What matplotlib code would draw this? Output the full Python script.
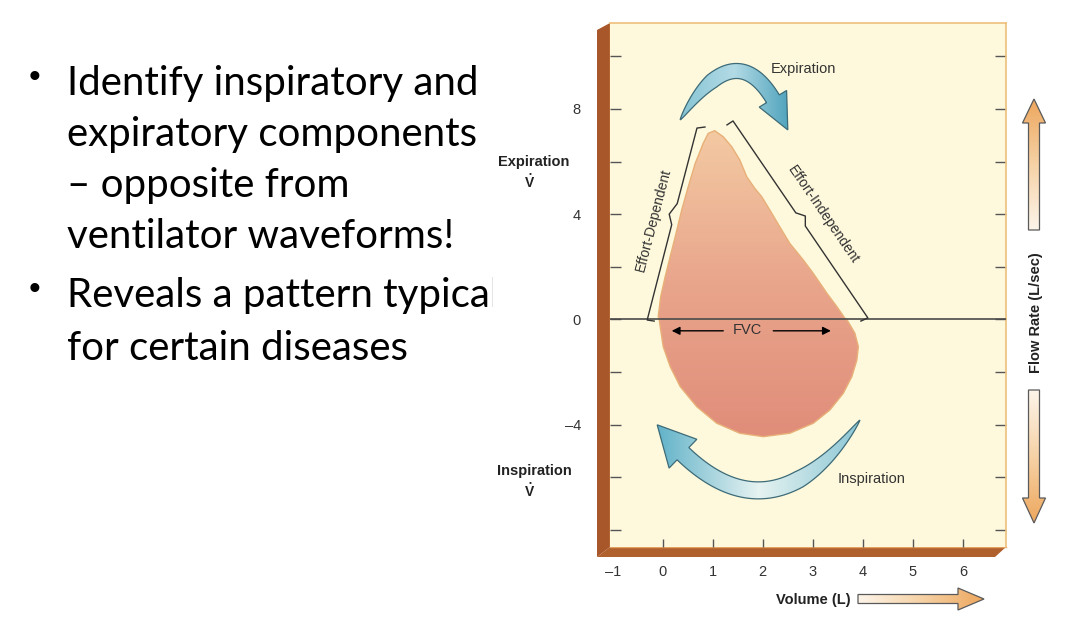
import numpy as np
import matplotlib.pyplot as plt
from matplotlib.patches import Polygon, Rectangle
from matplotlib.colors import LinearSegmentedColormap

W, H = 1066, 644

# slide text on the left
slide_lines = ["Identify inspiratory and", "expiratory components", "\u2013 opposite from",
               "ventilator waveforms!", "Reveals a pattern typical", "for certain diseases"]
slide_baselines = [95, 146, 197, 248, 307, 360]
bullet_rows = [0, 4]

# flow-volume loop, volume (L) vs flow (L/s)
exp_volume = [-0.07, -0.09, -0.04, 0.05, 0.15, 0.25, 0.38, 0.51, 0.65, 0.81, 0.91, 1.04,
              1.21, 1.38, 1.54, 1.68, 1.84, 1.98, 2.14, 2.34, 2.54, 2.81, 3.01, 3.28, 3.48, 3.64]
exp_flow = [0.0, 0.11, 0.87, 1.63, 2.39, 3.14, 4.16, 5.04, 5.93, 6.69, 7.07, 7.17,
            6.94, 6.56, 6.06, 5.42, 4.98, 4.66, 4.16, 3.52, 2.89, 2.26, 1.75, 1.00, 0.49, 0.05]
insp_volume = [3.68, 3.84, 3.91, 3.88, 3.78, 3.61, 3.34, 3.01, 2.54, 2.01, 1.54, 1.08,
               0.68, 0.35, 0.15, 0.01, -0.05]
insp_flow = [0.0, -0.52, -1.03, -1.54, -2.17, -2.80, -3.44, -3.94, -4.32, -4.45, -4.32, -3.94,
             -3.31, -2.55, -1.79, -1.03, -0.27]

# brackets along the expiratory limb
dep_x = [-0.17, -0.31, 0.18, 0.13, 0.29, 0.685, 0.845]
dep_y = [-0.06, -0.02, 3.6, 4.0, 4.4, 7.27, 7.31]
indep_x = [1.285, 1.405, 2.66, 2.85, 2.85, 4.10, 3.96]
indep_y = [7.39, 7.54, 4.05, 3.93, 3.55, 0.06, -0.06]

# curved direction arrows: tail, head (data units), bend
exp_arrow_tail, exp_arrow_head = (0.35, 7.58), (2.50, 7.20)
insp_arrow_tail, insp_arrow_head = (3.94, -3.82), (-0.11, -4.0)

x_ticks = [0, 1, 2, 3, 4, 5, 6]
y_ticks = [-8, -6, -4, -2, 0, 2, 4, 6, 8, 10]
y_labeled = {8: "8", 4: "4", 0: "0", -4: "\u20134"}

CREAM = "#fef9dc"
BROWN = "#a8572a"
INK = "#333333"
XLIM = (-1.053, 6.86)
YLIM = (-8.64, 11.26)
AX_PX = (610, 23, 1006, 547)  # left, top, right, bottom in pixels
SX = (AX_PX[2] - AX_PX[0]) / (XLIM[1] - XLIM[0])
SY = (AX_PX[3] - AX_PX[1]) / (YLIM[1] - YLIM[0])

plt.rcParams['font.family'] = ['Liberation Sans', 'DejaVu Sans']

fig = plt.figure(figsize=(W / 100, H / 100), dpi=100)

# full-figure layer in pixel coords for the slide + decorations
deco = fig.add_axes([0, 0, 1, 1])
deco.set_xlim(0, W)
deco.set_ylim(H, 0)
deco.set_autoscale_on(False)
deco.axis('off')

for i, line in enumerate(slide_lines):
    deco.text(67, slide_baselines[i], line, fontsize=29, family=['Lato', 'DejaVu Sans'],
              va='baseline', ha='left', color='black', zorder=1)
for r in bullet_rows:
    deco.text(35, slide_baselines[r] - 17, "\u2022", fontsize=24, ha='center', va='center',
              family=['Liberation Sans'], zorder=1)
deco.add_patch(Rectangle((493, 0), W - 493, H, color='white', zorder=2))

# 3d box: wall + floor
deco.add_patch(Polygon([(597, 30), (610, 23), (610, 547), (597, 557)], closed=True,
                       fc=BROWN, ec='none', zorder=3))
deco.add_patch(Polygon([(597, 557), (610, 547), (1006, 547), (995, 557)], closed=True,
                       fc='#b0602d', ec='none', zorder=3))
deco.plot([610, 610, 1006], [23, 547, 547], color='#e3a060', lw=1, zorder=4)

# y side labels
for label, ty, dy, vy in [("Expiration", 162, 174.5, 183), ("Inspiration", 471, 483.5, 492)]:
    deco.text(534, ty, label, fontsize=10.5, fontweight='bold', ha='center', va='center',
              color='#222222', zorder=4)
    deco.text(530, dy, "\u2022", fontsize=6, ha='center', va='center', color='#222222', zorder=4)
    deco.text(530, vy, "V", fontsize=10, fontweight='bold', ha='center', va='center',
              color='#222222', zorder=4)

deco.text(1036, 313, "Flow Rate (L/sec)", rotation=90, fontsize=10.5, fontweight='bold',
          ha='center', va='center', color='#222222', zorder=4)
deco.text(813, 600, "Volume (L)", fontsize=10.5, fontweight='bold', ha='center', va='center',
          color='#222222', zorder=4)

orange_cmap = LinearSegmentedColormap.from_list('org', ['#fdf6ec', '#f6d2a6', '#eda65c'])


def gradient_fill(target, poly, extent, cmap, horizontal, flip):
    g = np.linspace(0, 1, 128)
    if flip:
        g = g[::-1]
    arr = g.reshape(1, -1) if horizontal else g.reshape(-1, 1)
    im = target.imshow(arr, extent=extent, cmap=cmap, aspect='auto', zorder=poly.get_zorder() - 0.5)
    im.set_clip_path(poly)


for pts, ext, horiz, flip in [
        ([(1028.5, 230), (1028.5, 123), (1022.5, 123), (1034, 99), (1045.5, 123),
          (1039.5, 123), (1039.5, 230)], (1020, 1048, 232, 97), False, True),
        ([(1028.5, 390), (1028.5, 498), (1022.5, 498), (1034, 523), (1045.5, 498),
          (1039.5, 498), (1039.5, 390)], (1020, 1048, 525, 388), False, False),
        ([(858, 594.5), (958, 594.5), (958, 588), (984, 599), (958, 610), (958, 603.5),
          (858, 603.5)], (856, 986, 612, 586), True, False)]:
    p = Polygon(pts, closed=True, fc='none', ec='#5a5a5a', lw=0.9, zorder=6)
    deco.add_patch(p)
    gradient_fill(deco, p, ext, orange_cmap, horiz, flip)


def curved_arrow(tail, head, rad, body_w, head_w, head_len):
    # build outline in pixel space so widths are in pixels, then back to data
    p0 = np.array([tail[0] * SX, tail[1] * SY])
    p2 = np.array([head[0] * SX, head[1] * SY])
    d = p2 - p0
    c = (p0 + p2) / 2 + rad * np.array([d[1], -d[0]])
    t = np.linspace(0, 1, 300)[:, None]
    pts = (1 - t) ** 2 * p0 + 2 * (1 - t) * t * c + t ** 2 * p2
    tan = 2 * (1 - t) * (c - p0) + 2 * t * (p2 - c)
    tan = tan / np.linalg.norm(tan, axis=1)[:, None]
    nrm = np.column_stack([-tan[:, 1], tan[:, 0]])
    s = np.concatenate([[0], np.cumsum(np.linalg.norm(np.diff(pts, axis=0), axis=1))])
    body = s <= s[-1] - head_len
    sb = s[body]
    w = body_w * np.clip(sb / (0.4 * sb[-1]), 0, 1) ** 0.75 / 2
    left = pts[body] + nrm[body] * w[:, None]
    right = pts[body] - nrm[body] * w[:, None]
    k = body.sum() - 1
    base = pts[k]
    outline = np.vstack([left, base + nrm[k] * head_w / 2, p2,
                         base - nrm[k] * head_w / 2, right[::-1]])
    return outline / np.array([SX, SY])


# main chart
ax = fig.add_axes([AX_PX[0] / W, 1 - AX_PX[3] / H, (AX_PX[2] - AX_PX[0]) / W,
                   (AX_PX[3] - AX_PX[1]) / H], zorder=3)
ax.set_facecolor(CREAM)

loop_cmap = LinearSegmentedColormap.from_list('loop', ['#e08d7a', '#e9a58c', '#f3c9a2'])
verts = list(zip(exp_volume + insp_volume, exp_flow + insp_flow))
loop = Polygon(verts, closed=True, fc='none', ec='#e8b078', lw=1.0, zorder=3)
ax.add_patch(loop)
gradient_fill(ax, loop, (min(exp_volume + insp_volume), max(exp_volume + insp_volume),
                         min(insp_flow), max(exp_flow)), loop_cmap, False, True)

ax.axhline(0, color='#4a4a4a', lw=1.2, zorder=4)

# FVC
for start, end in [(1.21, 0.18), (2.21, 3.36)]:
    ax.annotate('', xy=(end, -0.43), xytext=(start, -0.43),
                arrowprops=dict(arrowstyle='-|>', color='black', lw=1, mutation_scale=12,
                                shrinkA=0, shrinkB=0), zorder=5)
ax.text(1.70, -0.40, "FVC", fontsize=10.5, ha='center', va='center', color=INK, zorder=5)

# brackets
ax.plot(dep_x, dep_y, color=INK, lw=1, zorder=5)
ax.plot(indep_x, indep_y, color=INK, lw=1, zorder=5)
ax.text(-0.19, 3.78, "Effort-Dependent", rotation=75.4, rotation_mode='anchor', ha='center',
        va='center', fontsize=10, color=INK, zorder=5)
ax.text(3.21, 3.97, "Effort-Independent", rotation=-55.6, rotation_mode='anchor', ha='center',
        va='center', fontsize=10, color=INK, zorder=5)

# curved blue arrows
blue_exp = LinearSegmentedColormap.from_list('be', ['#86c4d4', '#b3dbe5', '#52a4be'])
blue_insp = LinearSegmentedColormap.from_list('bi', ['#62b2c9', '#e6f3f1', '#8cc7d5'])
for tail, head, rad, bw, hw, hl, cm in [
        (exp_arrow_tail, exp_arrow_head, -1.0, 15, 32, 34, blue_exp),
        (insp_arrow_tail, insp_arrow_head, -0.67, 17, 40, 38, blue_insp)]:
    outline = curved_arrow(tail, head, rad, bw, hw, hl)
    arr = Polygon(outline, closed=True, fc='none', ec='#3d6b78', lw=0.9, zorder=6)
    ax.add_patch(arr)
    gradient_fill(ax, arr, (outline[:, 0].min(), outline[:, 0].max(),
                            outline[:, 1].min(), outline[:, 1].max()), cm, True, False)

ax.text(2.82, 9.38, "Expiration", fontsize=10.5, ha='center', va='baseline', color=INK)
ax.text(4.18, -6.21, "Inspiration", fontsize=10.5, ha='center', va='baseline', color=INK)

ax.set_xlim(*XLIM)
ax.set_ylim(*YLIM)

ax.set_xticks(x_ticks)
ax.set_xticklabels([str(v) for v in x_ticks])
ax.set_xticks([-1], minor=True)
ax.set_xticklabels(["\u20131"], minor=True)
ax.set_yticks(y_ticks)
ax.set_yticklabels([y_labeled.get(v, "") for v in y_ticks])
ax.tick_params(axis='x', which='major', direction='in', length=6, width=1, color='#555555',
               labelsize=10.5, labelcolor=INK, pad=13)
ax.tick_params(axis='x', which='minor', length=0, labelsize=10.5, labelcolor=INK, pad=13)
ax.tick_params(axis='y', direction='in', length=8, width=1, color='#555555', right=True,
               labelsize=10.5, labelcolor=INK, pad=21)
for s in ['left', 'bottom']:
    ax.spines[s].set_visible(False)
for s in ['top', 'right']:
    ax.spines[s].set_color('#eec07a')
    ax.spines[s].set_linewidth(1.2)

fig.savefig('out.png', dpi=100)
